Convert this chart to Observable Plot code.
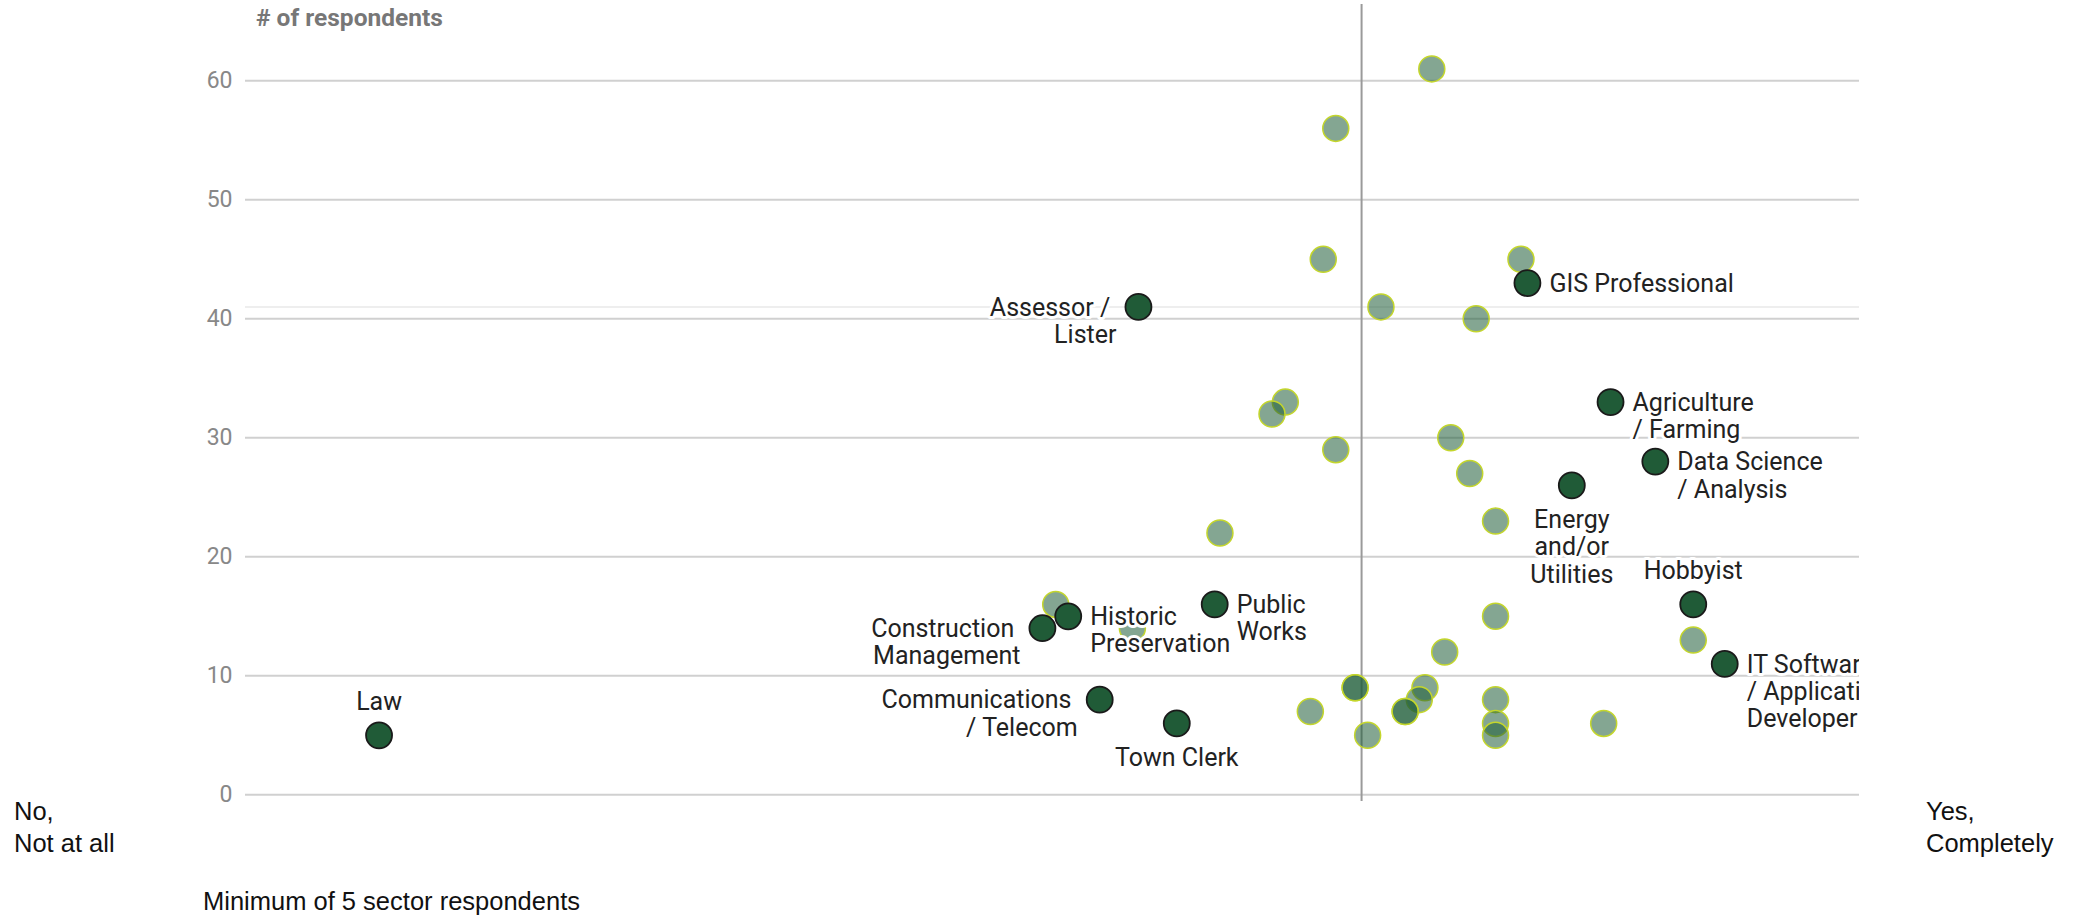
<!DOCTYPE html>
<html>
<head>
<meta charset="utf-8">
<script src="https://cdn.jsdelivr.net/npm/d3@7"></script>
<script src="https://cdn.jsdelivr.net/npm/@observablehq/plot@0.6"></script>
<style>
  html, body { margin: 0; padding: 0; background: #fff; }
  #wrap { position: relative; width: 2077px; height: 917px; overflow: hidden; background: #fff; }
  #chart svg { display: block; }
  .note { position: absolute; font-family: "Liberation Sans", Arial, sans-serif; font-size: 25.5px; line-height: 32px; color: #111; white-space: nowrap; }
  #ylab { position: absolute; left: 256px; top: 5px; font-family: Roboto, sans-serif; font-weight: 700; font-size: 24.5px; line-height: 26px; color: #777; white-space: nowrap; }
</style>
</head>
<body>
<div id="wrap">
  <div id="chart"></div>
  <div id="ylab"># of respondents</div>
  <div class="note" style="left:14px; top:795px;">No,<br>Not at all</div>
  <div class="note" style="left:1926px; top:795px;">Yes,<br>Completely</div>
  <div class="note" style="left:203px; top:885px;">Minimum of 5 sector respondents</div>
</div>
<script>
// ---- Data ----
const labeledSectors = [
  "Law", "Construction Management", "Historic Preservation", "Communications / Telecom",
  "Assessor / Lister", "Town Clerk", "Public Works", "GIS Professional",
  "Energy and/or Utilities", "Agriculture / Farming", "Data Science / Analysis",
  "Hobbyist", "IT Software / Application Developer"
];
const labeledText = [
  "Law", "Construction\u00a0\nManagement", "Historic\nPreservation", "Communications\u00a0\n/ Telecom",
  "Assessor /\u00a0\nLister", "Town Clerk", "Public\nWorks", "GIS Professional",
  "Energy\nand/or\nUtilities", "Agriculture\n/ Farming", "Data Science\n/ Analysis",
  "Hobbyist", "IT Software\n/ Application\nDeveloper"
];
const labeledScore = [1.331, 2.975, 3.039, 3.117, 3.213, 3.308, 3.402, 4.177, 4.287, 4.383, 4.494, 4.588, 4.666];
const labeledCount = [5, 14, 15, 8, 41, 6, 16, 43, 26, 33, 28, 16, 11];

const otherScore = [3.940, 3.702, 3.671, 4.161, 3.814, 4.050, 3.577, 3.544, 3.987, 3.702,
                    4.034, 4.098, 3.415, 3.008, 4.098, 3.198, 4.588, 3.972, 3.750, 3.750,
                    3.923, 3.909, 4.098, 3.639, 3.874, 3.874, 4.098, 4.366, 3.781, 4.098];
const otherCount = [61, 56, 45, 45, 41, 40, 33, 32, 30, 29,
                    27, 23, 22, 16, 15, 14, 13, 12, 9, 9,
                    9, 8, 8, 7, 7, 7, 6, 6, 5, 5];

const yTicks = [0, 10, 20, 30, 40, 50, 60];
const referenceScore = [3.766];
const highlightCount = [41];

// ---- Label placement (presentation) ----
const placement = {
  "Law": "above", "Hobbyist": "above",
  "Town Clerk": "below", "Energy and/or Utilities": "below",
  "Construction Management": "left", "Communications / Telecom": "left", "Assessor / Lister": "left"
};

const labeled = labeledSectors.map((s, i) => ({
  sector: s, text: labeledText[i], score: labeledScore[i], count: labeledCount[i],
  place: placement[s] || "right"
}));
const others = otherScore.map((v, i) => ({score: v, count: otherCount[i]}));

const FS = 25, LH = 1.09;
const firstLineDy = -(0.71 - 0.32) * LH * FS; // center first line on the dot
const textBase = {
  x: "score", y: "count", text: "text", fontSize: FS, lineHeight: LH,
  fill: "#222", stroke: "white", strokeWidth: 6, strokeLinejoin: "round", clip: "frame"
};
const byPlace = p => labeled.filter(d => d.place === p);

const chart = Plot.plot({
  width: 2077,
  height: 917,
  marginTop: 4,
  marginBottom: 116,
  marginLeft: 245,
  marginRight: 218,
  x: {domain: [1, 5], axis: null},
  y: {domain: [-0.56, 66.41], axis: null},
  style: {fontFamily: "Roboto, sans-serif", background: "#fff", overflow: "visible"},
  marks: [
    Plot.gridY(yTicks, {stroke: "#d0d0d0", strokeOpacity: 1, strokeWidth: 2}),
    Plot.axisY(yTicks, {tickSize: 0, tickPadding: 13, fontSize: 23, fill: "#888", label: null}),
    Plot.ruleY(highlightCount, {stroke: "#eeeeee", strokeWidth: 2}),
    Plot.ruleX(referenceScore, {stroke: "#9a9a9a", strokeWidth: 2}),
    Plot.dot(others, {x: "score", y: "count", r: 13, fill: "#1f5c38", fillOpacity: 0.55,
                      stroke: "#c4d62c", strokeWidth: 1.5}),
    Plot.dot(labeled, {x: "score", y: "count", r: 13, fill: "#205b37",
                       stroke: "#1a1a1a", strokeWidth: 1.8}),
    Plot.text(byPlace("right"), {...textBase, textAnchor: "start", lineAnchor: "top", dx: 22, dy: firstLineDy}),
    Plot.text(byPlace("left"), {...textBase, textAnchor: "end", lineAnchor: "top", dx: -22, dy: firstLineDy}),
    Plot.text(byPlace("above"), {...textBase, textAnchor: "middle", lineAnchor: "middle", dy: -34}),
    Plot.text(byPlace("below"), {...textBase, textAnchor: "middle", lineAnchor: "top", dy: 34 + firstLineDy})
  ]
});
document.getElementById("chart").appendChild(chart);
</script>
</body>
</html>
